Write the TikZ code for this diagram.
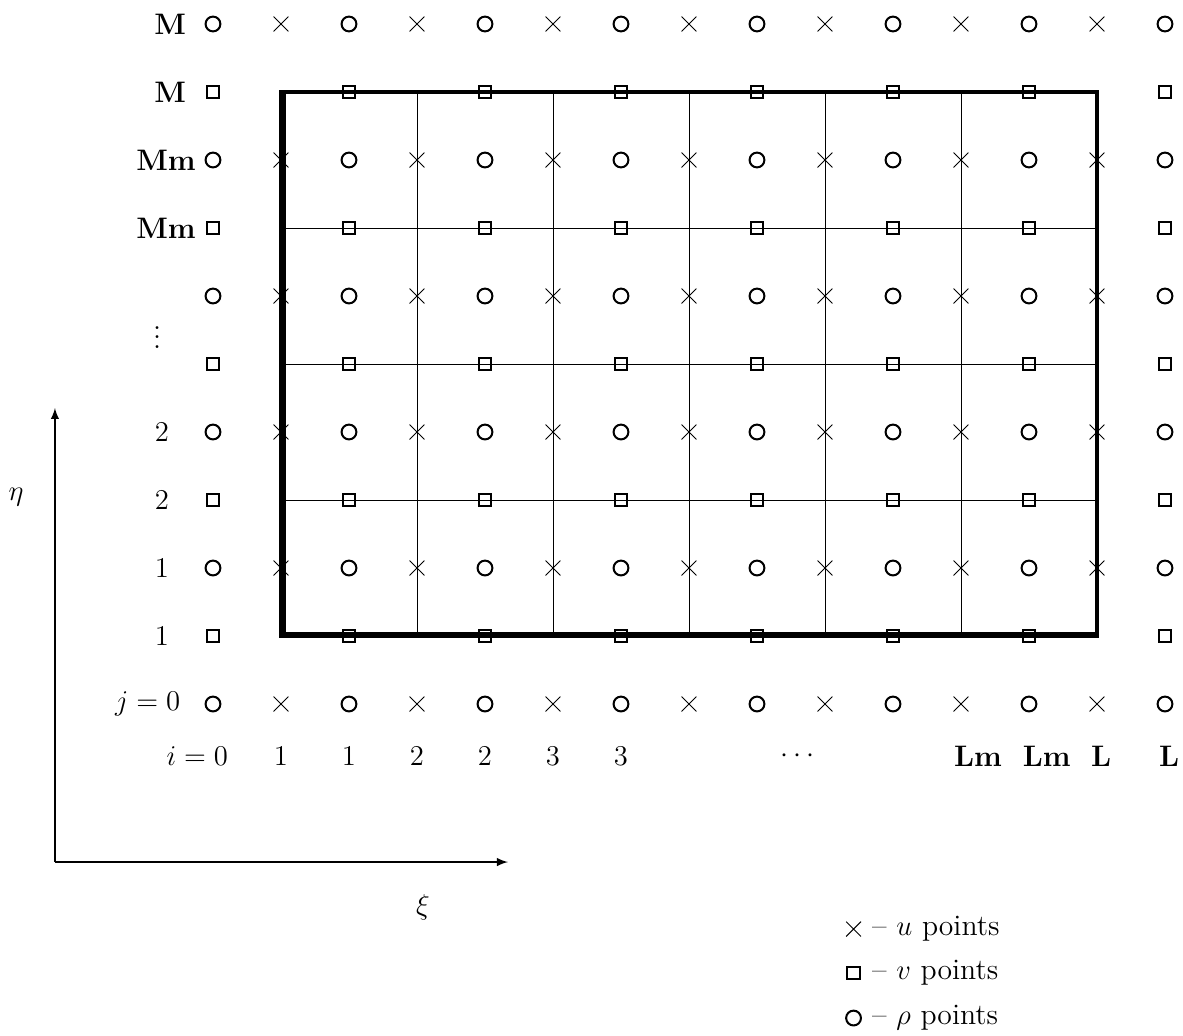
\documentclass[tikz,border=0pt]{standalone}
\usepackage{amsmath,amssymb}
\usetikzlibrary{arrows,shapes.misc,positioning,calc}

\tikzset{
  rhopt/.style={circle,draw,line width=0.85pt,minimum size=6.2pt,inner sep=0pt},
  vpt/.style={rectangle,draw,line width=0.85pt,minimum size=5.2pt,inner sep=0pt},
  upt/.style={cross out,draw,line width=0.4pt,minimum size=5.8pt,inner sep=0pt},
  frame/.style={line width=1.4pt},
  gridline/.style={line width=0.4pt},
  axis/.style={line width=0.6pt,-latex}
}

\begin{document}
\begin{tikzpicture}[font=\fontsize{12.4}{15}\selectfont]
  \useasboundingbox (-3.132,-4.882) rectangle (14.265,10.353);
  % cell frame and inner cell boundaries
  \coordinate (sw) at (1,1);
  \coordinate (ne) at (13,9);
  \foreach \k in {3,5,7,9,11}
    \draw[gridline] (\k,1) -- (\k,9);
  \foreach \r in {3,5,7}
    \draw[gridline] (1,\r) -- (13,\r);
  \draw[frame] (sw) rectangle (ne);
  \draw[line width=1.1pt] ($(1,9)+(0.05,0)$) -- ($(sw)+(0.05,0.035)$) -- ($(13,1)+(0,0.035)$);
  % rho and u points on full rows
  \foreach \r in {0,2,...,10} {
    \foreach \k in {0,2,...,14}
      \node[rhopt] (rho-\k-\r) at (\k,\r) {};
    \foreach \k in {1,3,...,13}
      \node[upt] (u-\k-\r) at (\k,\r) {};
  }
  % v points on half rows
  \foreach \r in {1,3,...,9}
    \foreach \k in {0,2,...,14}
      \node[vpt] (v-\k-\r) at (\k,\r) {};
  % row labels
  \node (lblM1) at (-0.63,10) {\textbf{M}};
  \node (lblM2) at (-0.63,9) {\textbf{M}};
  \node (lblMm1) at (-0.69,8) {\textbf{Mm}};
  \node (lblMm2) at (-0.69,7) {\textbf{Mm}};
  \node (lbldots) at (-0.82,5.5) {$\vdots$};
  \node (lbltwo1) at (-0.75,4) {$2$};
  \node (lbltwo2) at (-0.75,3) {$2$};
  \node (lblone1) at (-0.75,2) {$1$};
  \node (lblone2) at (-0.75,1) {$1$};
  \node (lblj) at (-0.96,0) {$j=0$};
  % column labels
  \node (lbli) at (-0.23,-0.77) {$i=0$};
  \node (lblc1) at (1,-0.77) {$1$};
  \node (lblc2) at (2,-0.77) {$1$};
  \node (lblc3) at (3,-0.77) {$2$};
  \node (lblc4) at (4,-0.77) {$2$};
  \node (lblc5) at (5,-0.77) {$3$};
  \node (lblc6) at (6,-0.77) {$3$};
  \node (lblcdots) at (8.63,-0.77) {$\cdots$};
  \node (lblLm1) at (11.25,-0.77) {\textbf{Lm}};
  \node (lblLm2) at (12.26,-0.77) {\textbf{Lm}};
  \node (lblL1) at (13.06,-0.77) {\textbf{L}};
  \node (lblL2) at (14.06,-0.77) {\textbf{L}};
  % axes
  \coordinate (origin) at (-2.324,-2.324);
  \coordinate (etaend) at (-2.324,4.353);
  \coordinate (xiend) at (4.338,-2.324);
  \draw[axis] (origin) -- (etaend);
  \draw[axis] (origin) -- (xiend);
  \node (eta) at (-2.897,3.044) {$\eta$};
  \node (xi) at (3.088,-2.985) {$\xi$};
  % legend
  \node[upt] (keyu) at (9.42,-3.309) {};
  \node[vpt] (keyv) at (9.42,-3.956) {};
  \node[rhopt] (keyrho) at (9.42,-4.618) {};
  \node[anchor=west,inner sep=1pt] (txtu) at (9.58,-3.309) {\,-- $u$ points};
  \node[anchor=west,inner sep=1pt] (txtv) at (9.58,-3.956) {\,-- $v$ points};
  \node[anchor=west,inner sep=1pt] (txtrho) at (9.58,-4.618) {\,-- $\rho$ points};
\end{tikzpicture}
\end{document}
